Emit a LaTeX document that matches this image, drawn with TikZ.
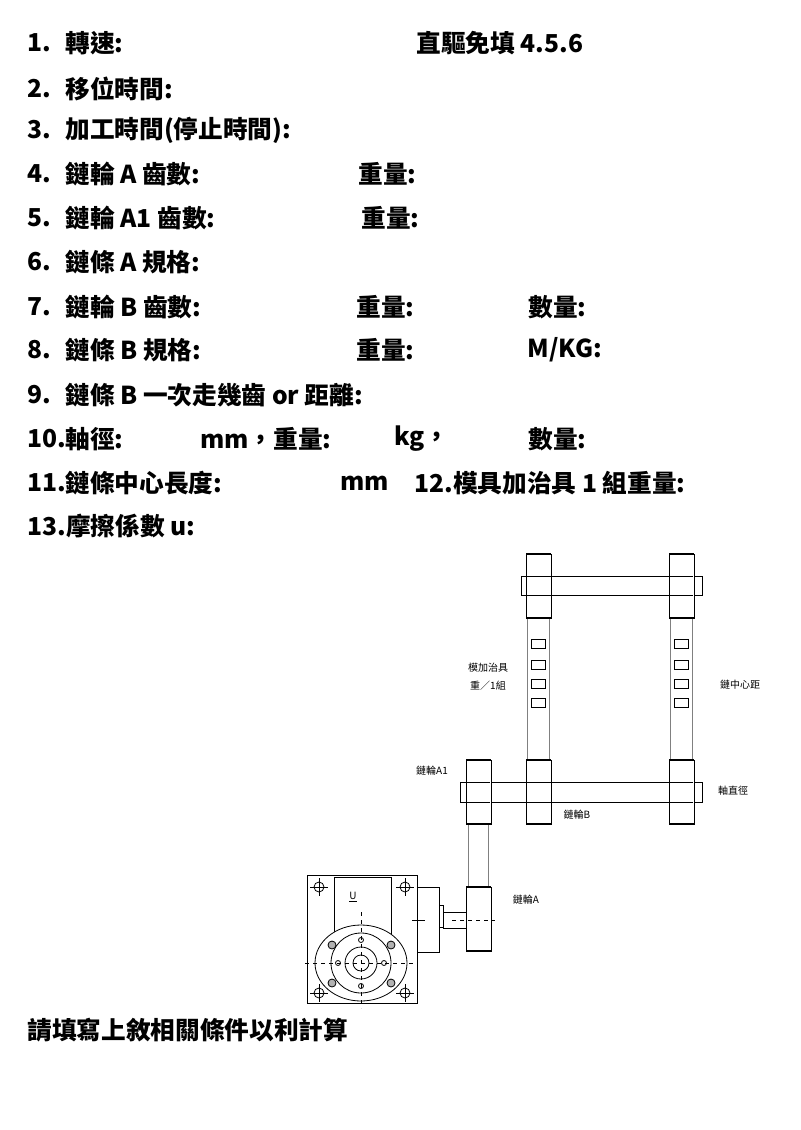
\documentclass[tikz,border=0pt]{standalone}
\usepackage{fontspec}
\setmainfont{Noto Sans CJK TC}
\usetikzlibrary{positioning}

\begin{document}
\begin{tikzpicture}[x=0.75pt,y=-0.75pt,line width=0.6pt]
      \tikzstyle{row}=[anchor=west,inner sep=0pt,font=\fontsize{18.5}{22}\selectfont\bfseries]
      \tikzstyle{lbl}=[anchor=center,inner sep=0pt,font=\fontsize{7.5}{9}\selectfont]
      \tikzstyle{wheel}=[draw,fill=white]
      \tikzstyle{chain}=[draw=gray]
      \useasboundingbox (0,0) rectangle (800,1130);

      % text rows
      \foreach \n/\y/\t in {1/43/轉速:,2/89/移位時間:,3/130/加工時間(停止時間):,4/174/鏈輪 A 齒數:,5/218/鏈輪 A1 齒數:,6/262/鏈條 A 規格:,7/307/鏈輪 B 齒數:,8/350/鏈條 B 規格:,9/395/鏈條 B 一次走幾齒 or 距離:}
        {\node[row] (n\n) at (27,\y) {\n.};
         \node[row] (t\n) at (65,\y) {\t};}
      \node[row] (n10) at (27,439) {10.};
      \node[row] (t10) at (65,439) {軸徑:};
      \node[row] (n11) at (27,483) {11.};
      \node[row] (t11) at (65,483) {鏈條中心長度:};
      \node[row] (t13) at (27,526) {13.摩擦係數 u:};
      \node[row] (c1) at (416,43) {直驅免填 4.5.6};
      \node[row] (c4) at (358,174) {重量:};
      \node[row] (c5) at (361,218) {重量:};
      \node[row] (c7) at (356,307) {重量:};
      \node[row] (d7) at (528,307) {數量:};
      \node[row] (c8) at (356,350) {重量:};
      \node[row] (d8) at (527,350) {M/KG:};
      \node[row] (c10) at (200,439) {mm，重量:};
      \node[row] (e10) at (394,439) {kg，};
      \node[row] (d10) at (528,439) {數量:};
      \node[row] (c11) at (340,483) {mm};
      \node[row] (d11) at (414,483) {12.模具加治具 1 組重量:};
      \node[row] (note) at (27,1030) {請填寫上敘相關條件以利計算};

      % chains
      \foreach \x in {527,670} {
        \draw[chain] (\x,617) -- (\x,760);
        \draw[chain] (\x+22,617) -- (\x+22,760);
        \foreach \q in {639,660,679,698}
          \draw (\x+4,\q) rectangle (\x+18,\q+9);
      }
      \draw[chain] (468,824) -- (468,887);
      \draw[chain] (488,824) -- (488,887);

      % shafts and wheels
      \draw (521,576) rectangle (702,595);
      \draw (460,782) rectangle (702,802);
      \foreach \x/\y in {526/554,669/554,526/760,669/760,466/760,466/887} {
        \draw[wheel] (\x,\y) rectangle (\x+25,\y+64);
        \draw[line width=1.4pt] (\x,\y) -- (\x+25,\y) (\x,\y+64) -- (\x+25,\y+64);
      }
      \draw (526,576) -- (551,576) (526,595) -- (551,595) (669,576) -- (693,576) (669,595) -- (693,595);
      \draw (466,782) -- (490,782) (466,802) -- (490,802) (526,782) -- (551,782) (526,802) -- (551,802) (669,782) -- (693,782) (669,802) -- (693,802);

      % gearbox
      \draw (307,875) rectangle (417,1003);
      \draw (334,877) -- (334,938) (391,877) -- (391,938) (334,877) -- (391,877);
      \draw (417,887) rectangle (439,952);
      \draw (439,905) rectangle (443,927);
      \draw (443,912) -- (466,912) (443,928) -- (466,928);
      \draw[dashed] (452,920) -- (495,920);
      \draw (412,920) -- (425,920);
      \draw[fill=white] (361,963) ellipse [x radius=46,y radius=38];
      \draw (361,963) circle (30);
      \draw (361,963) circle (16);
      \draw (361,963) circle (8);
      \draw[dashed] (305,963) -- (417,963) (361,912) -- (361,1008);
      \foreach \a in {0,90,180,270}
        \draw ([shift={(\a:23)}]361,963) circle (2.5);
      \foreach \x/\y in {332/945,391/945,332/983,391/983}
        \draw[fill=gray!60] (\x,\y) circle (4);
      \foreach \x/\y in {319/887,405/887,319/993,405/993} {
        \draw (\x,\y) circle (5);
        \draw (\x-9,\y) -- (\x+9,\y) (\x,\y-9) -- (\x,\y+9);
      }
      \node[lbl] (u) at (353,897) {\underline{U}};

      % labels
      \node[lbl] (l1) at (488,668) {模加治具};
      \node[lbl] (l2) at (488,686) {重／1組};
      \node[lbl] (l3) at (740,685) {鏈中心距};
      \node[lbl] (l4) at (432,771) {鏈輪A1};
      \node[lbl] (l5) at (733,791) {軸直徑};
      \node[lbl] (l6) at (577,815) {鏈輪B};
      \node[lbl] (l7) at (526,900) {鏈輪A};
\end{tikzpicture}
\end{document}
